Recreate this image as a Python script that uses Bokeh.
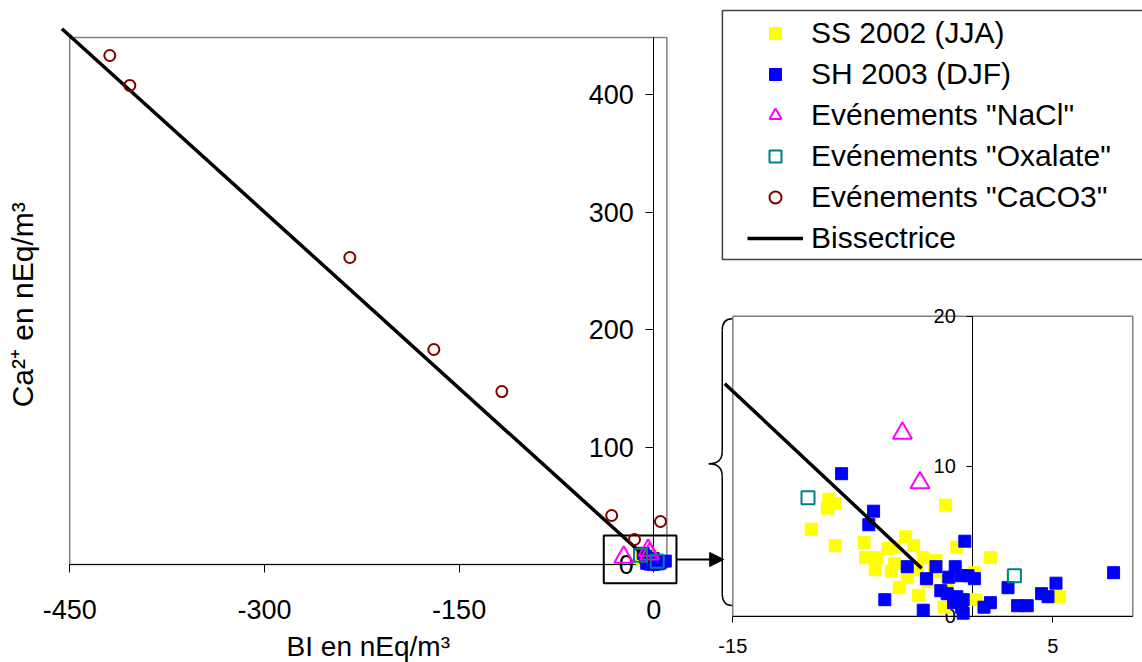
import numpy as np
from bokeh.plotting import figure
from bokeh.models import (Range1d, LinearAxis, FixedTicker, Legend, LegendItem,
                          Arrow, NormalHead, Label)
from bokeh.embed import file_html
from bokeh.resources import INLINE

# ---------------- data ----------------
ss_x = [-9.0, -8.6, -9.1, -10.1, -8.6, -6.8, -6.7, -6.0, -6.1, -5.1, -4.9, -5.3, -4.9, -4.2, -3.7,
        -3.1, -4.1, -4.6, -3.4, -3.5, -1.7, -1.0, 1.1, 5.4, -2.3, -2.8, 0.1, 0.2, -1.8, -1.6, -2.4]
ss_y = [7.8, 7.5, 7.2, 5.8, 4.7, 4.9, 3.9, 3.9, 3.1, 3.0, 3.5, 4.5, 4.6, 5.3, 4.7,
        3.9, 2.6, 1.9, 1.4, 3.1, 7.4, 4.6, 3.9, 1.3, 3.7, 2.3, 2.9, 1.1, 0.6, 2.3, 3.0]
sh_x = [-8.2, -6.2, -6.5, -0.5, -4.1, -5.5, -3.1, -2.3, -2.9, -1.1, -1.5, -0.7, -0.3, 0.1, -2.0,
        -1.6, -1.0, -0.6, -1.2, -0.7, -0.6, 0.7, 1.1, 2.2, 2.8, 3.4, 4.3, 4.7, 5.2, 8.8]
sh_y = [9.5, 7.0, 6.1, 5.0, 3.3, 1.1, 0.4, 3.3, 2.5, 3.3, 2.6, 2.7, 2.7, 2.5, 1.7,
        1.5, 1.3, 1.1, 0.9, 0.6, 0.2, 0.6, 0.9, 1.9, 0.7, 0.7, 1.5, 1.3, 2.2, 2.9]
nacl_x = [-23.2, -4.4, -3.3]
nacl_y = [6.2, 12.2, 8.9]
oxa_x = [-10.3, 2.6]
oxa_y = [7.9, 2.7]
caco3_x = [-419.1, -403.7, -234.2, -169.5, -117.1, -32.5, -14.9, 5.1]
caco3_y = [433.2, 407.7, 261.3, 183.0, 147.2, 41.7, 21.3, 36.6]
bis_x = [-456, -3]
bis_y = [456, 3]
inset_bis_x = [-15.5, -3.2]
inset_bis_y = [15.5, 3.2]

main_xticks = [-450, -300, -150, 0]
main_yticks = [0, 100, 200, 300, 400]
inset_xticks = [-15, 5]
inset_yticks = [0, 10, 20]
series_labels = ["SS 2002 (JJA)", "SH 2003 (DJF)", 'Evénements "NaCl"',
                 'Evénements "Oxalate"', 'Evénements "CaCO3"', "Bissectrice"]
x_title = "BI en nEq/m³"
y_title = "Ca²⁺ en nEq/m³"

# ---------------- layout constants ----------------
FONT = "Liberation Sans"
W, H = 1142, 662
MAIN_XLIM = (-450, 10)
MAIN_YLIM = (0, 448.5)
INSET_XLIM = (-15, 10)
INSET_YLIM = (0, 20)

p = figure(width=W, height=H,
           x_range=Range1d(-503.3, 376.4), y_range=Range1d(-83.4, 480.0),
           x_axis_type=None, y_axis_type=None, output_backend="svg",
           toolbar_location=None, min_border=0, outline_line_color=None,
           background_fill_color="white", border_fill_color="white")
p.extra_x_ranges = {"ix": Range1d(-60.77, 10.606)}
p.extra_y_ranges = {"iy": Range1d(-3.087, 41.047)}
IN = dict(x_range_name="ix", y_range_name="iy")

# plot-area frames
p.quad(left=[MAIN_XLIM[0]], right=[MAIN_XLIM[1]], bottom=[MAIN_YLIM[0]], top=[MAIN_YLIM[1]],
       fill_color=None, line_color="#808080", line_width=1.5)
p.quad(left=[INSET_XLIM[0]], right=[INSET_XLIM[1]], bottom=[INSET_YLIM[0]], top=[INSET_YLIM[1]],
       fill_color=None, line_color="#808080", line_width=1.5, **IN)


def make_axis(ticks, bounds, size, tick_len, standoff, **kw):
    ax = LinearAxis(ticker=FixedTicker(ticks=ticks), fixed_location=0, bounds=bounds, **kw)
    ax.major_label_overrides = {t: str(t) for t in ticks}
    ax.major_label_text_font = FONT
    ax.major_label_text_font_size = f"{size}px"
    ax.major_label_text_color = "black"
    ax.major_tick_in = 0
    ax.major_tick_out = tick_len
    ax.minor_tick_line_color = None
    ax.axis_line_color = "black"
    ax.major_tick_line_color = "black"
    ax.major_label_standoff = standoff
    return ax


p.add_layout(make_axis(main_xticks, MAIN_XLIM, 27, 8, 27), "below")
p.add_layout(make_axis(main_yticks, MAIN_YLIM, 27, 8, 12), "left")
p.add_layout(make_axis(inset_xticks, INSET_XLIM, 20, 6, 17, **IN), "below")
p.add_layout(make_axis(inset_yticks, INSET_YLIM, 20, 6, 11, **IN), "left")


def sel(xs, ys, inset):
    xs = np.asarray(xs, float)
    ys = np.asarray(ys, float)
    if inset:
        m = (xs >= INSET_XLIM[0]) & (xs <= INSET_XLIM[1]) & (ys >= INSET_YLIM[0]) & (ys <= INSET_YLIM[1])
        return xs[m], ys[m]
    return xs, ys


main_r = None
for inset in (False, True):
    kw = IN if inset else {}
    x, y = sel(ss_x, ss_y, inset)
    r1 = p.scatter(x, y, marker="square", size=12, fill_color="#FFFF00", line_color="#FFFF00",
                   level="overlay", **kw)
    x, y = sel(sh_x, sh_y, inset)
    r2 = p.scatter(x, y, marker="square", size=12, fill_color="#0000FF", line_color="#0000FF",
                   level="overlay", **kw)
    lx, ly = (inset_bis_x, inset_bis_y) if inset else (bis_x, bis_y)
    r6 = p.line(lx, ly, line_color="black", line_width=3.5, level="overlay", **kw)
    x, y = sel(nacl_x, nacl_y, inset)
    r3 = p.scatter(x, y, marker="triangle", size=19, fill_color=None, line_color="#FF00FF",
                   line_width=2, level="overlay", **kw)
    x, y = sel(oxa_x, oxa_y, inset)
    r4 = p.scatter(x, y, marker="square", size=13, fill_color=None, line_color="#008080",
                   line_width=2, level="overlay", **kw)
    x, y = sel(caco3_x, caco3_y, inset)
    r5 = p.scatter(x, y, marker="circle", size=11, fill_color=None, line_color="#800000",
                   line_width=2, level="overlay", **kw)
    if not inset:
        main_r = [r1, r2, r3, r4, r5, r6]

# zoom rectangle and arrow
p.quad(left=[-38.6], right=[17.4], bottom=[-15.9], top=[24.7],
       fill_color=None, line_color="black", line_width=2)
p.add_layout(Arrow(end=NormalHead(size=14, fill_color="black", line_color="black", line_width=1),
                   x_start=17.4, y_start=4.3, x_end=53.8, y_end=4.3,
                   line_width=2, line_color="black"))

# brace next to the inset
bx0 = [-15.04, -15.66, -16.5, -15.66]
by0 = [19.83, 10.98, 10.16, 1.51]
bx1 = [-15.66, -16.5, -15.66, -15.04]
by1 = [19.05, 10.16, 9.31, 0.71]
bcx = [-15.66, -15.66, -15.66, -15.66]
bcy = [19.83, 10.16, 10.16, 0.71]
p.quadratic(x0=bx0, y0=by0, x1=bx1, y1=by1, cx=bcx, cy=bcy,
            line_color="black", line_width=1.5, **IN)
p.segment(x0=[-15.66, -15.66], y0=[19.05, 9.31], x1=[-15.66, -15.66], y1=[10.98, 1.51],
          line_color="black", line_width=1.5, **IN)

# axis titles
p.add_layout(Label(x=-220, y=-70.0, text=x_title, text_align="center",
                   text_baseline="alphabetic", text_font=FONT, text_font_size="28px",
                   text_color="black"))
p.add_layout(Label(x=-486, y=221, text=y_title, angle=np.pi / 2, text_align="center",
                   text_baseline="alphabetic", text_font=FONT, text_font_size="30px",
                   text_color="black"))

# legend
p.quad(left=[52.8], right=[420], bottom=[259.6], top=[471.5],
       fill_color=None, line_color="#404040", line_width=1.5)
items = [LegendItem(label=lab, renderers=[r]) for lab, r in zip(series_labels, main_r)]
leg = Legend(items=items, location=(747, 407), padding=0, margin=0, spacing=7,
             glyph_width=56, glyph_height=30, label_height=34, label_standoff=8,
             label_text_font=FONT, label_text_font_size="30px", label_text_color="black",
             border_line_color=None, background_fill_alpha=0.0)
p.add_layout(leg)

open("out.html", "w").write(file_html(p, INLINE))
